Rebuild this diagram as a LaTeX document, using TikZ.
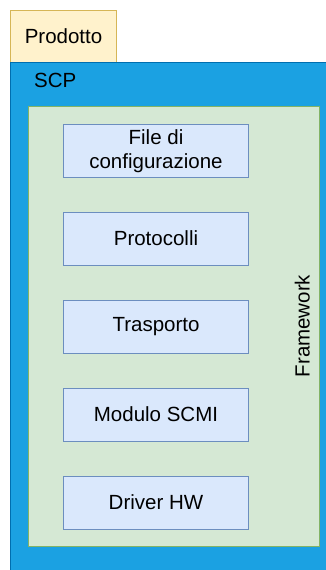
\documentclass[tikz,border=0pt]{standalone}
\usepackage{fontspec}
\setmainfont{Liberation Sans}
\definecolor{prodfill}{HTML}{FFF2CC}
\definecolor{prodline}{HTML}{D6B656}
\definecolor{scpfill}{HTML}{1BA1E2}
\definecolor{scpline}{HTML}{006EAF}
\definecolor{fwfill}{HTML}{D5E8D4}
\definecolor{fwline}{HTML}{82B366}
\definecolor{layfill}{HTML}{DAE8FC}
\definecolor{layline}{HTML}{6C8EBF}
\tikzset{
  label font/.style={font=\fontsize{20.5}{24.6}\selectfont, text=black},
  layer/.style={draw=layline, fill=layfill, line width=1pt, rectangle,
    minimum width=185pt, minimum height=53pt, inner sep=0pt,
    align=center, label font},
}
\begin{document}
\begin{tikzpicture}[x=1pt, y=-1pt]
  \useasboundingbox (0,0) rectangle (326,570);
  % product container
  \draw[draw=prodline, fill=prodfill, line width=1pt] (10.5,10.5) rectangle (116.5,62.5);
  \node[label font, anchor=base] (prod) at (63.5,43) {Prodotto};
  % SCP firmware container
  \draw[draw=scpline, fill=scpfill, line width=1pt] (10.5,62.5) rectangle (340,590);
  \node[label font, anchor=base west, inner sep=0pt] (scp) at (34,87) {SCP};
  % framework area
  \draw[draw=fwline, fill=fwfill, line width=1pt] (28.5,106.5) rectangle (319,546);
  \node[label font, rotate=90, anchor=base, inner sep=0pt] (fw) at (309.5,326) {Framework};
  % framework layers
  \node[layer] (cfg)  at (156,151)   {File di\\configurazione};
  \node[layer] (prot) at (156,238.5) {Protocolli};
  \node[layer] (tra)  at (156,326.5) {Trasporto};
  \node[layer] (scmi) at (156,414.5) {Modulo SCMI};
  \node[layer] (drv)  at (156,502.5) {Driver HW};
\end{tikzpicture}
\end{document}
